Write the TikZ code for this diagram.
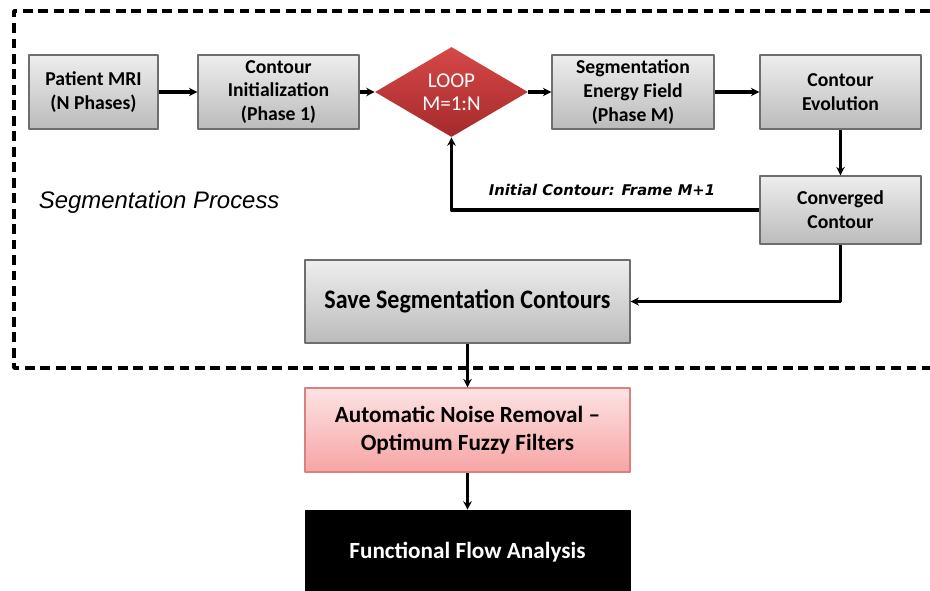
\documentclass[tikz,border=0pt]{standalone}
\usepackage{fontspec}
\setmainfont{Carlito}
\newfontfamily\arialfont{Liberation Sans}
\newfontfamily\verdfont{DejaVu Sans}
\newfontfamily\narrowfont[FakeStretch=0.9]{Carlito}
\usetikzlibrary{shapes.geometric,arrows.meta,shadows}
\definecolor{boxtop}{HTML}{EEEEEE}
\definecolor{boxbot}{HTML}{BBBBBB}
\definecolor{boxline}{HTML}{6E6E6E}
\definecolor{looptop}{HTML}{D64848}
\definecolor{loopbot}{HTML}{A52A2A}
\definecolor{pinktop}{HTML}{FDE3E3}
\definecolor{pinkbot}{HTML}{F7A4A4}
\definecolor{pinkline}{HTML}{D98080}
\tikzset{
  procbox/.style={draw=boxline, line width=0.8pt, top color=boxtop, bottom color=boxbot,
    align=center, font=\bfseries\fontsize{14}{17}\selectfont, inner sep=2pt,
    drop shadow={opacity=0.35, shadow xshift=1pt, shadow yshift=-1pt}},
  loopdia/.style={diamond, aspect=1.7, inner sep=0pt, top color=looptop, bottom color=loopbot,
    text=white, align=center, font=\fontsize{15}{16.5}\selectfont,
    minimum width=3.825cm, minimum height=2.25cm},
  flowline/.style={line width=2.2pt, ->},
  thinflow/.style={line width=1.6pt, ->},
}
\begin{document}
\begin{tikzpicture}[x=0.025cm, y=-0.025cm, line join=round, >={Stealth[length=6pt,width=6pt]}]
\useasboundingbox (0,0) rectangle (930,591);

% segmentation frame
\draw[line width=2.6pt, dash pattern=on 7pt off 4pt] (930,11) -- (14,11) -- (14,368) -- (930,368);
\node[anchor=west, font=\arialfont\itshape\fontsize{17}{20}\selectfont] (segproc) at (34,202) {Segmentation Process};

% top row
\node[procbox, minimum width=3.225cm, minimum height=1.85cm] (patient) at (93.5,92) {Patient MRI\\(N Phases)};
\node[procbox, minimum width=4.025cm, minimum height=1.85cm] (init) at (278.5,92) {Contour\\Initialization\\(Phase 1)};
\node[loopdia] (loop) at (451.5,92) {LOOP\\M=1:N};
\node[procbox, minimum width=4.05cm, minimum height=1.85cm] (energy) at (633,92) {Segmentation\\Energy Field\\(Phase M)};
\node[procbox, minimum width=4.025cm, minimum height=1.85cm] (evol) at (840.5,92) {Contour\\Evolution};
\node[procbox, minimum width=4.025cm, minimum height=1.7cm] (conv) at (840.5,210) {Converged\\Contour};

% lower column
\node[procbox, minimum width=8.125cm, minimum height=2.075cm, font=\narrowfont\bfseries\fontsize{19}{22}\selectfont] (save) at (467.5,301.5) {Save Segmentation Contours};
\node[procbox, draw=pinkline, top color=pinktop, bottom color=pinkbot, minimum width=8.125cm, minimum height=2.1cm,
  font=\bfseries\fontsize{16.5}{20}\selectfont] (noise) at (467.5,430) {Automatic Noise Removal –\\Optimum Fuzzy Filters};
\node[draw=black, fill=black, text=white, minimum width=8.125cm, minimum height=2.1cm,
  font=\bfseries\fontsize{16.5}{19}\selectfont] (flow) at (467.5,552) {Functional Flow Analysis};

% connectors
\draw[flowline] (patient) -- (init);
\draw[flowline] (init) -- (loop);
\draw[flowline] (loop) -- (energy);
\draw[flowline] (energy) -- (evol);
\draw[flowline] (evol) -- (conv);
\draw[flowline] (conv.west) -| (loop.south);
\node[font=\verdfont\bfseries\itshape\fontsize{10.5}{12}\selectfont] (initlabel) at (602,190) {Initial Contour: Frame M+1};
\draw[flowline] (conv.south) |- (save.east);
\draw[thinflow] (save) -- (noise);
\draw[thinflow] (noise) -- (flow);
\end{tikzpicture}
\end{document}
